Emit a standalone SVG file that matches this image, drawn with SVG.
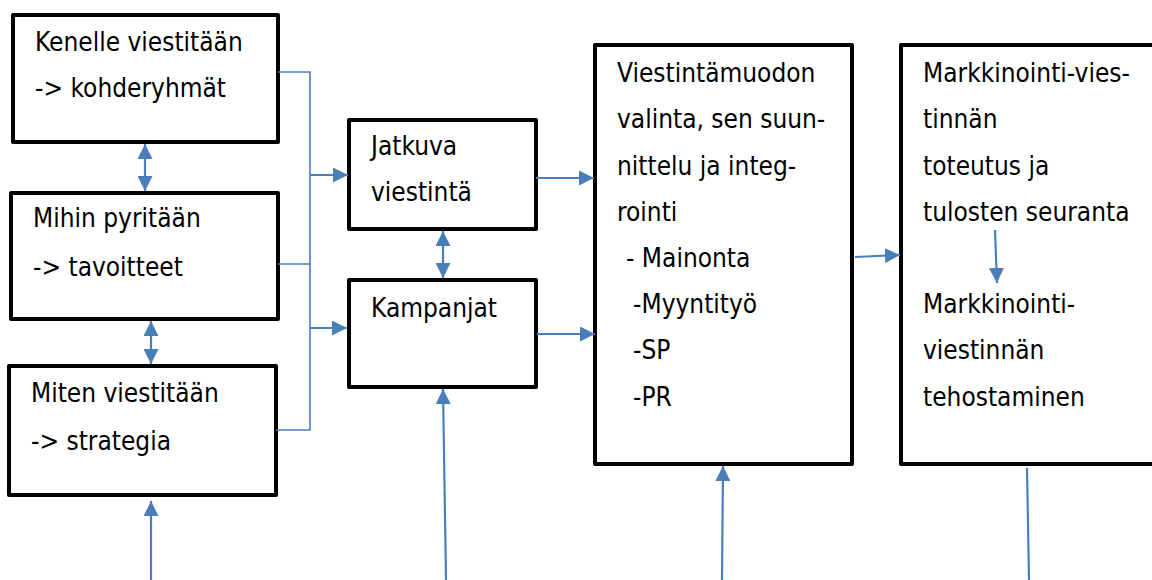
<svg xmlns="http://www.w3.org/2000/svg" width="1152" height="580" viewBox="0 0 1152 580">
<style>
.box{fill:#fff;stroke:#000;stroke-width:4;stroke-linejoin:round}
.t{font-family:"DejaVu Sans Condensed","DejaVu Sans",sans-serif;font-stretch:condensed;font-size:26px;fill:#000}
.c{stroke:#4A7EBB;stroke-width:2.2;fill:none}
.bus{stroke:#4A7EBB;stroke-width:1.6;fill:none}
.a{marker-end:url(#ah)}
.d{marker-start:url(#ah);marker-end:url(#ah)}
</style>
<defs>
<marker id="ah" viewBox="0 0 15 15" refX="15" refY="7.5" markerWidth="15" markerHeight="15" markerUnits="userSpaceOnUse" orient="auto-start-reverse">
<path d="M0,0 L15,7.5 L0,15 z" fill="#4A7EBB"/>
</marker>
</defs>
<g id="n1"><rect class="box" x="13" y="15" width="265" height="127"/>
<text class="t" x="35" y="51">Kenelle viestitään</text>
<text class="t" x="35" y="97">-&gt; kohderyhmät</text></g>
<g id="n2"><rect class="box" x="11" y="193" width="267" height="126"/>
<text class="t" x="33" y="227">Mihin pyritään</text>
<text class="t" x="33" y="276">-&gt; tavoitteet</text></g>
<g id="n3"><rect class="box" x="9" y="366" width="267" height="129"/>
<text class="t" x="31" y="402">Miten viestitään</text>
<text class="t" x="31" y="450">-&gt; strategia</text></g>
<g id="n4"><rect class="box" x="349" y="120" width="187" height="109"/>
<text class="t" x="371" y="155">Jatkuva</text>
<text class="t" x="371" y="201">viestintä</text></g>
<g id="n5"><rect class="box" x="349" y="280" width="187" height="107"/>
<text class="t" x="371" y="317">Kampanjat</text></g>
<g id="n6"><rect class="box" x="595" y="45" width="257" height="419"/>
<text class="t" x="617" y="82">Viestintämuodon</text>
<text class="t" x="617" y="128">valinta, sen suun-</text>
<text class="t" x="617" y="175">nittelu ja integ-</text>
<text class="t" x="617" y="221">rointi</text>
<text class="t" x="626" y="267">- Mainonta</text>
<text class="t" x="633" y="313">-Myyntityö</text>
<text class="t" x="633" y="359">-SP</text>
<text class="t" x="633" y="406">-PR</text></g>
<g id="n7"><rect class="box" x="901" y="45" width="270" height="419"/>
<text class="t" x="923" y="82">Markkinointi-vies-</text>
<text class="t" x="923" y="128">tinnän</text>
<text class="t" x="923" y="175">toteutus ja</text>
<text class="t" x="923" y="221">tulosten seuranta</text>
<text class="t" x="923" y="313">Markkinointi-</text>
<text class="t" x="923" y="359">viestinnän</text>
<text class="t" x="923" y="406">tehostaminen</text></g>
<g id="connectors">
<path class="bus" d="M278,72 H310 V430 H276 M278,264 H310"/>
<line class="c a" x1="310" y1="175" x2="348" y2="175"/>
<line class="c a" x1="310" y1="328" x2="347" y2="328"/>
<line class="c d" x1="145" y1="144" x2="145" y2="191"/>
<line class="c d" x1="151" y1="321" x2="151" y2="364"/>
<line class="c d" x1="443" y1="231" x2="443" y2="278"/>
<line class="c a" x1="536" y1="178" x2="594" y2="178"/>
<line class="c a" x1="537" y1="334" x2="595" y2="334"/>
<line class="c a" x1="855" y1="257" x2="900" y2="255"/>
<line class="c a" x1="995" y1="230" x2="997" y2="283"/>
<line class="c a" x1="151" y1="580" x2="151" y2="501"/>
<line class="c a" x1="446" y1="580" x2="443" y2="389"/>
<line class="c a" x1="722" y1="580" x2="723" y2="466"/>
<line class="c" x1="1029" y1="580" x2="1027" y2="468"/>
</g>
</svg>
